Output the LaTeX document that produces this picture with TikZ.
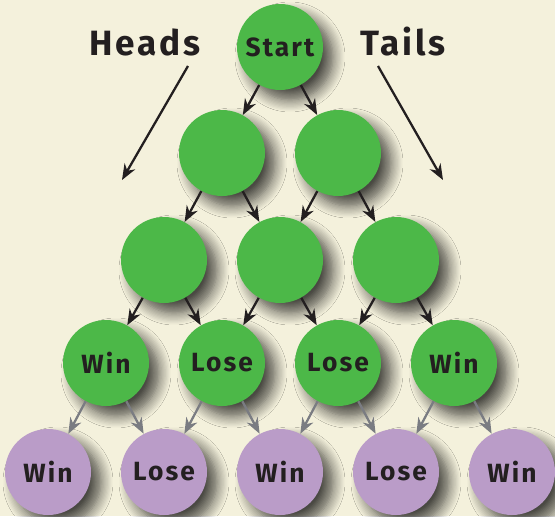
\documentclass[tikz,border=0pt]{standalone}
\usepackage{fontspec}
\setmainfont{Fira Sans}
\newfontfamily\labelfont[LetterSpace=8]{Fira Sans}
\usepackage{tikz}
\usetikzlibrary{arrows.meta,shadows.blur}

\definecolor{paper}{HTML}{F4F1DC}
\definecolor{leafgreen}{HTML}{4CB848}
\definecolor{leafpurple}{HTML}{BA9CC8}
\definecolor{inkdark}{HTML}{231F20}
\definecolor{tipgray}{HTML}{7A7C82}

\tikzset{
	coin/.style={circle, fill=leafgreen, minimum size=1.72cm, inner sep=0pt,
		font=\labelfont\fontsize{15}{15}\selectfont\bfseries, text=inkdark,
		blur shadow={shadow xshift=0.2cm, shadow yshift=-0.2cm, shadow blur steps=10, shadow blur radius=0.24cm, shadow opacity=70}},
	endcoin/.style={coin, fill=leafpurple},
	flip/.style={draw=inkdark, line width=1.3pt, -{Stealth[length=9pt,width=7pt]}},
	lastflip/.style={flip, draw=tipgray},
	side/.style={font=\labelfont\fontsize{20}{20}\selectfont\bfseries, text=inkdark}
}

\begin{document}
\begin{tikzpicture}
	\fill[paper] (0,0) rectangle (11.1,10.32);
	\useasboundingbox (0,0) rectangle (11.1,10.32);

	% labels
	\node[side] at (2.9,9.48) (heads){Heads};
	\node[side] at (8.06,9.48) (tails){Tails};
	\coordinate (hstart) at (3.76,9.0);
	\coordinate (hend) at (2.44,6.72);
	\coordinate (tstart) at (7.56,9.0);
	\coordinate (tend) at (8.86,6.72);
	\draw[flip] (hstart) -- (hend);
	\draw[flip] (tstart) -- (tend);

	% tree
	\node[coin] at (5.6,9.38) (s){Start};
	\node[coin] at (4.44,7.26) (a1){};
	\node[coin] at (6.76,7.26) (a2){};
	\node[coin] at (3.28,5.12) (b1){};
	\node[coin] at (5.6,5.12) (b2){};
	\node[coin] at (7.92,5.12) (b3){};
	\node[coin] at (2.12,3.06) (c1){Win};
	\node[coin] at (4.44,3.06) (c2){Lose};
	\node[coin] at (6.76,3.06) (c3){Lose};
	\node[coin] at (9.08,3.06) (c4){Win};
	\node[endcoin] at (0.96,0.88) (d1){Win};
	\node[endcoin] at (3.28,0.88) (d2){Lose};
	\node[endcoin] at (5.6,0.88) (d3){Win};
	\node[endcoin] at (7.92,0.88) (d4){Lose};
	\node[endcoin] at (10.24,0.88) (d5){Win};

	\draw[flip] (s) -- (a1);
	\draw[flip] (s) -- (a2);
	\draw[flip] (a1) -- (b1);
	\draw[flip] (a1) -- (b2);
	\draw[flip] (a2) -- (b2);
	\draw[flip] (a2) -- (b3);
	\draw[flip] (b1) -- (c1);
	\draw[flip] (b1) -- (c2);
	\draw[flip] (b2) -- (c2);
	\draw[flip] (b2) -- (c3);
	\draw[flip] (b3) -- (c3);
	\draw[flip] (b3) -- (c4);
	\draw[lastflip] (c1) -- (d1);
	\draw[lastflip] (c1) -- (d2);
	\draw[lastflip] (c2) -- (d2);
	\draw[lastflip] (c2) -- (d3);
	\draw[lastflip] (c3) -- (d3);
	\draw[lastflip] (c3) -- (d4);
	\draw[lastflip] (c4) -- (d4);
	\draw[lastflip] (c4) -- (d5);
\end{tikzpicture}
\end{document}
